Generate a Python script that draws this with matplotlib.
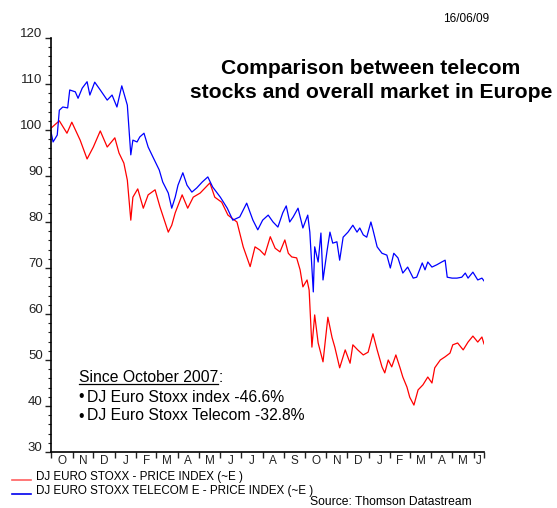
import numpy as np
import pandas as pd
import matplotlib
matplotlib.use("Agg")
import matplotlib.pyplot as plt
from matplotlib.ticker import MultipleLocator
from matplotlib.transforms import ScaledTranslation
from matplotlib.lines import Line2D

plt.rcParams["font.family"] = ["Liberation Sans", "DejaVu Sans"]

# days since 2007-10-01 and index level
start = "2007-10-01"
end = "2009-06-16"

stoxx_days = [0, 12, 23, 30, 42, 52, 61, 71, 81, 92, 98, 105, 110, 115, 118, 125, 133, 140,
              150, 157, 169, 174, 179, 189, 197, 205, 215, 229, 236, 246, 255, 268, 277, 287,
              294, 301, 308, 316, 323, 330, 337, 342, 347, 354, 359, 363, 369, 372, 376, 380,
              385, 392, 399, 405, 409, 416, 424, 431, 435, 442, 450, 457, 464, 470, 477, 481,
              486, 491, 497, 503, 507, 513, 517, 523, 529, 536, 543, 549, 553, 561, 568, 575,
              579, 586, 594, 601, 608, 615, 621, 624]
stoxx_vals = [100.4, 102.0, 99.3, 101.7, 97.8, 93.7, 96.3, 99.8, 96.3, 98.3, 95.0, 92.8, 89.1,
              80.4, 85.4, 87.2, 83.0, 85.9, 87.0, 83.3, 77.8, 79.3, 82.0, 85.9, 83.0, 85.4, 86.3,
              88.5, 85.4, 84.3, 81.5, 80.0, 74.6, 70.3, 74.6, 73.9, 72.8, 76.8, 74.3, 73.5, 76.1,
              73.2, 72.4, 72.2, 69.6, 65.9, 67.4, 65.2, 52.8, 59.8, 53.7, 49.6, 59.3, 54.9, 52.8,
              48.3, 52.2, 49.3, 53.3, 52.2, 51.1, 51.7, 55.7, 52.2, 48.5, 47.2, 50.0, 48.5, 51.1,
              48.3, 46.3, 44.1, 41.9, 40.2, 43.5, 44.6, 46.3, 45.0, 48.3, 50.0, 50.7, 51.5, 53.3,
              53.7, 52.2, 53.9, 55.2, 53.9, 55.0, 53.5]

telecom_days = [0, 3, 9, 12, 17, 24, 27, 35, 39, 45, 52, 56, 63, 71, 81, 88, 95, 102, 110, 115,
                118, 124, 128, 134, 140, 147, 156, 161, 169, 174, 179, 183, 190, 196, 203, 210,
                218, 226, 233, 244, 254, 262, 272, 282, 291, 298, 305, 313, 320, 327, 334, 339,
                344, 349, 356, 363, 370, 373, 378, 380, 385, 389, 392, 398, 402, 406, 412, 416,
                421, 428, 435, 441, 445, 450, 455, 461, 464, 470, 477, 484, 489, 494, 500, 507,
                514, 522, 527, 535, 539, 543, 549, 556, 563, 568, 571, 578, 585, 592, 597, 601,
                608, 615, 621, 624]
telecom_vals = [99.6, 97.4, 98.9, 104.3, 105.0, 104.8, 108.7, 108.3, 106.9, 109.1, 110.5, 107.6,
                110.4, 108.7, 106.5, 107.6, 105.0, 109.6, 105.4, 94.6, 97.8, 97.4, 98.5, 99.3,
                96.3, 94.1, 91.3, 88.7, 86.3, 83.0, 85.4, 88.0, 90.7, 88.0, 86.5, 87.4, 88.7,
                89.8, 87.6, 85.4, 83.0, 80.4, 81.1, 84.1, 80.4, 78.3, 80.4, 81.5, 80.0, 78.9,
                82.0, 83.5, 80.0, 81.1, 83.0, 78.7, 81.5, 77.8, 64.8, 74.6, 71.3, 77.6, 67.4,
                73.9, 77.8, 75.4, 75.7, 71.7, 76.7, 77.8, 79.3, 77.8, 78.7, 77.2, 76.7, 80.0,
                78.3, 74.6, 73.2, 72.8, 70.0, 73.2, 72.2, 68.9, 70.2, 67.8, 68.0, 71.1, 69.6,
                71.3, 70.2, 70.7, 71.3, 71.7, 68.0, 67.8, 67.8, 68.0, 68.9, 67.8, 69.1, 67.4,
                67.8, 67.2]

month_letters = ["O", "N", "D", "J", "F", "M", "A", "M", "J", "J", "A", "S",
                 "O", "N", "D", "J", "F", "M", "A", "M", "J"]

title_lines = ["Comparison between telecom", "stocks and overall market in Europe"]
legend_labels = ["DJ EURO STOXX - PRICE INDEX (~E )",
                 "DJ EURO STOXX TELECOM E - PRICE INDEX (~E )"]
note_lines = ["DJ Euro Stoxx index -46.6%", "DJ Euro Stoxx Telecom -32.8%"]

W, H = 557, 508
fig = plt.figure(figsize=(W / 100, H / 100), dpi=100)
ax = fig.add_axes([51 / W, 1 - 452 / H, (484 - 51) / W, (452 - 38) / H])

t0 = pd.Timestamp(start)
x_stoxx = (t0 + pd.to_timedelta(stoxx_days, unit="D")).to_numpy()
x_tel = (t0 + pd.to_timedelta(telecom_days, unit="D")).to_numpy()

ax.plot(x_stoxx, stoxx_vals, color="#ff0000", lw=0.9)
ax.plot(x_tel, telecom_vals, color="#0000ff", lw=0.9)

ax.set_xlim(pd.Timestamp(start).to_numpy(), pd.Timestamp(end).to_numpy())
ax.set_ylim(30, 120)

for s in ["top", "right"]:
    ax.spines[s].set_visible(False)
for s in ["left", "bottom"]:
    ax.spines[s].set_linewidth(1.2)

# y axis
ax.yaxis.set_major_locator(MultipleLocator(10))
ax.yaxis.set_minor_locator(MultipleLocator(2))
ax.tick_params(axis="y", which="major", length=4, width=1, labelsize=9.5, pad=2, colors="#222222")
ax.tick_params(axis="y", which="minor", length=2.5, width=0.8, colors="#222222")
for lab in ax.get_yticklabels():
    lab.set_transform(lab.get_transform() + ScaledTranslation(0, 4 / 72, fig.dpi_scale_trans))

# x axis: ticks at month boundaries, letters in the middle of each month
bounds = list(pd.date_range(start, end, freq="MS")) + [pd.Timestamp(end)]
mids = [a + (b - a) / 2 for a, b in zip(bounds[:-1], bounds[1:])]
ax.set_xticks([b.to_numpy() for b in bounds])
ax.set_xticklabels([])
ax.set_xticks([m.to_numpy() for m in mids], minor=True)
ax.set_xticklabels(month_letters, minor=True)
ax.tick_params(axis="x", which="major", length=4, width=1, colors="#222222")
ax.tick_params(axis="x", which="minor", length=0, labelsize=8.5, pad=2, colors="#222222")

# title and date
for i, line in enumerate(title_lines):
    fig.text(371 / W, 1 - (68 + 25 * i) / H, line, ha="center", va="center",
             fontsize=15.2, fontweight="bold")
fig.text(466 / W, 1 - 19 / H, "16/06/09", ha="center", va="center", fontsize=8.5)

# note box
fs_note = 11.3
head = fig.text(79 / W, 1 - 377 / H, "Since October 2007", ha="left", va="center", fontsize=fs_note)
fig.canvas.draw()
bb = head.get_window_extent()
fig.text(bb.x1 / W, 1 - 377 / H, ":", ha="left", va="center", fontsize=fs_note)
fig.add_artist(Line2D([bb.x0 / W, bb.x1 / W], [(bb.y0 + 1) / H] * 2, color="black", lw=0.9))
for i, line in enumerate(note_lines):
    yy = 1 - (397 + 19 * i) / H
    fig.text(78 / W, yy, "\u2022", ha="left", va="center", fontsize=fs_note)
    fig.text(87 / W, yy, line, ha="left", va="center", fontsize=fs_note)

# legend below the axis
for i, (lab, col) in enumerate(zip(legend_labels, ["#ff6060", "#0000ee"])):
    fig.add_artist(Line2D([12 / W, 31 / W], [1 - (480 + 14 * i) / H] * 2, color=col, lw=1.2))
    fig.text(36 / W, 1 - (477 + 14 * i) / H, lab, ha="left", va="center", fontsize=8.4)

fig.text(310 / W, 1 - 502 / H, "Source: Thomson Datastream", ha="left", va="center", fontsize=8.7)

fig.savefig("out.png", dpi=100)
